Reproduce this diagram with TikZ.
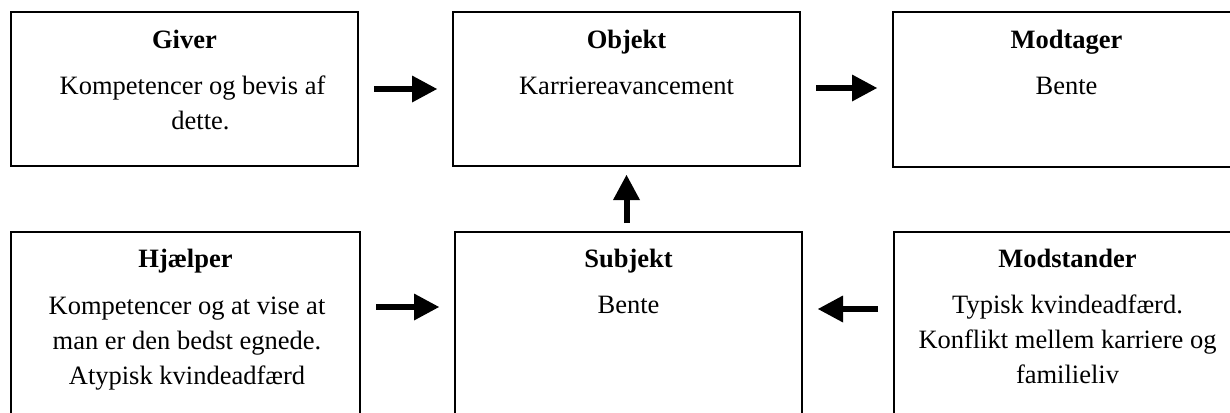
\documentclass[tikz,border=0pt]{standalone}
\usepackage{fontspec}
\setmainfont{Liberation Serif}
\usetikzlibrary{arrows.meta,calc}
\newcommand{\boxfont}{\fontsize{13.25pt}{17.5pt}\selectfont}
\begin{document}
\begin{tikzpicture}[x=0.5pt,y=-0.5pt,
  box/.style={draw, line width=1pt, rectangle, anchor=north west, inner sep=0pt},
  ttl/.style={anchor=base, inner sep=0pt, font=\boxfont\bfseries},
  body/.style={anchor=north, inner sep=0pt, align=center, font=\boxfont},
  arr/.style={line width=3pt, -{Triangle[length=12.5pt,width=13.5pt,line width=0pt]},
              shorten <=7.5pt, shorten >=7.5pt}]
  \useasboundingbox (0,0) rectangle (1230,412);
  \clip (0,0) rectangle (1230,412);

  % upper row
  \node[box, minimum width=173.5pt, minimum height=77pt] (giver) at (10,11) {};
  \node[box, minimum width=173.5pt, minimum height=77pt] (objekt) at (452,11) {};
  \node[box, minimum width=173.5pt, minimum height=77.5pt] (modtager) at (892,11) {};

  % lower row (runs past the bottom edge)
  \node[box, minimum width=174.5pt, minimum height=100pt] (hjaelper) at (10,231) {};
  \node[box, minimum width=173.5pt, minimum height=100pt] (subjekt) at (454,231) {};
  \node[box, minimum width=173.5pt, minimum height=100pt] (modstander) at (893,231) {};

  % titles and texts (a strut fixes the top of each text block)
  \node[ttl] (giverT) at ($(giver.north)+(0,37)$) {Giver};
  \node[body] (giverB) at ($(giverT.base)+(8,21.5)$) {\strut Kompetencer og bevis af\\\hspace*{8pt}dette.};

  \node[ttl] (objektT) at ($(objekt.north)+(0,37)$) {Objekt};
  \node[body] (objektB) at ($(objektT.base)+(0,21.5)$) {\strut Karriereavancement};

  \node[ttl] (modtagerT) at ($(modtager.north)+(0,37)$) {Modtager};
  \node[body] (modtagerB) at ($(modtagerT.base)+(0,21.5)$) {\strut Bente};

  \node[ttl] (hjaelperT) at ($(hjaelper.north)+(0,36)$) {Hjælper};
  \node[body] (hjaelperB) at ($(hjaelperT.base)+(1.5,22.5)$)
    {\strut Kompetencer og at vise at\\man er den bedst egnede.\\Atypisk kvindeadfærd};

  \node[ttl] (subjektT) at ($(subjekt.north)+(0,36)$) {Subjekt};
  \node[body] (subjektB) at ($(subjektT.base)+(0,21.5)$) {\strut Bente};

  \node[ttl] (modstanderT) at ($(modstander.north)+(0,36)$) {Modstander};
  \node[body] (modstanderB) at ($(modstanderT.base)+(0,21.5)$)
    {\strut Typisk kvindeadfærd.\\Konflikt mellem karriere og\\familieliv};

  % connectors
  \draw[arr] ($(giver.north east)+(0,78)$) -- ($(objekt.north west)+(0,78)$);
  \draw[arr] ($(objekt.north east)+(0,77)$) -- ($(modtager.north west)+(0,77)$);
  \draw[arr, shorten <=4pt, shorten >=4pt] (subjekt.north -| objekt.south) -- (objekt.south);
  \draw[arr] ($(hjaelper.north east)+(0,76)$) -- ($(subjekt.north west)+(0,76)$);
  \draw[arr] ($(modstander.north west)+(0,78)$) -- ($(subjekt.north east)+(0,78)$);
\end{tikzpicture}
\end{document}
